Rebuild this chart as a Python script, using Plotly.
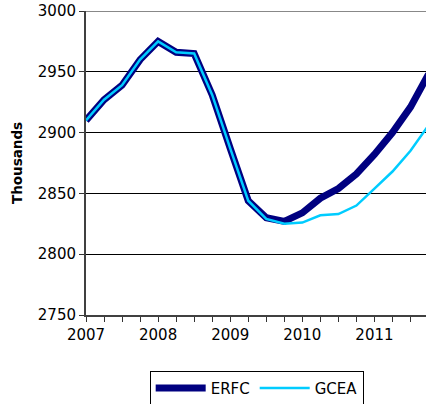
import plotly.graph_objects as go

quarters = [f"{y} Q{q}" for y in range(2007, 2012) for q in range(1, 5)]
erfc = [2910, 2927, 2939, 2960, 2975, 2966, 2965, 2931, 2887, 2844, 2830, 2827,
        2834, 2846, 2854, 2866, 2882, 2900, 2921, 2948]
gcea = [2910, 2927, 2939, 2960, 2975, 2966, 2965, 2931, 2887, 2844, 2829, 2825,
        2826, 2832, 2833, 2840, 2854, 2868, 2885, 2906]
year_labels = ["2007", "", "", "", "2008", "", "", "", "2009", "", "", "",
               "2010", "", "", "", "2011", "", "", ""]
y_ticks = [2750, 2800, 2850, 2900, 2950, 3000]

FONT = "Verdana, DejaVu Sans, sans-serif"

fig = go.Figure()
fig.add_trace(go.Scatter(x=quarters, y=erfc, name="ERFC", mode="lines",
                         line=dict(color="#000080", width=7)))
fig.add_trace(go.Scatter(x=quarters, y=gcea, name="GCEA", mode="lines",
                         line=dict(color="#00CCFF", width=2.5)))

fig.add_shape(type="line", xref="paper", yref="y", x0=0, x1=1, y0=3000, y1=3000,
              line=dict(color="#888888", width=2), layer="above")

fig.update_layout(
    width=426, height=404,
    margin=dict(l=86, r=0, t=11, b=89, autoexpand=False),
    paper_bgcolor="white", plot_bgcolor="white",
    font=dict(family=FONT, size=15, color="black"),
    showlegend=True,
    legend=dict(orientation="h", x=0.502, xanchor="center", y=-0.183, yanchor="top",
                bordercolor="black", borderwidth=1, bgcolor="white",
                font=dict(size=15), itemwidth=50, tracegroupgap=0),
    xaxis=dict(type="category", range=[0, 18.86], tickvals=quarters, ticktext=year_labels,
               ticks="outside", ticklen=5, tickcolor="#333333", tickwidth=1,
               showline=True, linecolor="#404040", linewidth=2, automargin=False,
               showgrid=False, zeroline=False, tickfont=dict(size=15)),
    yaxis=dict(range=[2750, 3000], tickvals=y_ticks, ticks="outside", ticklen=5,
               tickcolor="#333333", tickwidth=1, automargin=False,
               showline=True, linecolor="#404040", linewidth=2,
               showgrid=True, gridcolor="black", gridwidth=1, zeroline=False,
               title=dict(text="<b>Thousands</b>", font=dict(size=13.5), standoff=12),
               tickfont=dict(size=15)),
)

fig.write_html("out.html", config={"displayModeBar": False},
               post_script="document.body.style.margin='0';document.body.style.overflow='hidden';")
